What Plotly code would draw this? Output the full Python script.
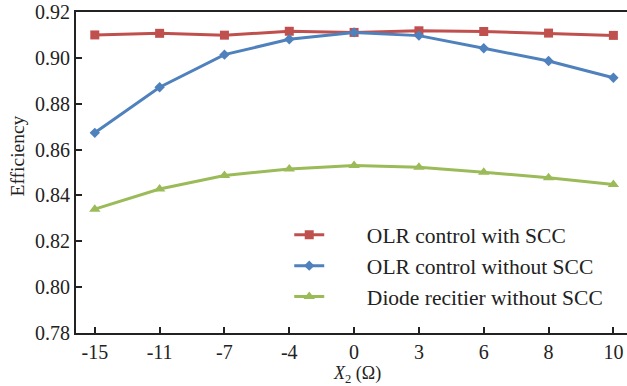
import plotly.graph_objects as go

x_labels = ["-15", "-11", "-7", "-4", "0", "3", "6", "8", "10"]
olr_with_scc = [0.9100, 0.9107, 0.9099, 0.9116, 0.9111, 0.9118, 0.9115, 0.9108, 0.9098]
olr_without_scc = [0.8673, 0.8872, 0.9014, 0.9081, 0.9111, 0.9097, 0.9042, 0.8986, 0.8913]
diode_without_scc = [0.8340, 0.8428, 0.8487, 0.8515, 0.8531, 0.8523, 0.8501, 0.8477, 0.8448]
y_ticks = [0.78, 0.80, 0.82, 0.84, 0.86, 0.88, 0.90, 0.92]

FONT = "Liberation Serif, Times New Roman, serif"
pad = "\u00a0" * 7

fig = go.Figure()
fig.add_trace(go.Scatter(x=x_labels, y=olr_with_scc, mode="lines+markers",
                         name=pad + "OLR control with SCC",
                         line=dict(color="#C0504D", width=3),
                         marker=dict(symbol="square", size=9, color="#C0504D")))
fig.add_trace(go.Scatter(x=x_labels, y=olr_without_scc, mode="lines+markers",
                         name=pad + "OLR control without SCC",
                         line=dict(color="#4F81BD", width=3),
                         marker=dict(symbol="diamond", size=8, color="#4F81BD")))
fig.add_trace(go.Scatter(x=x_labels, y=diode_without_scc, mode="lines+markers",
                         name=pad + "Diode recitier without SCC",
                         line=dict(color="#9BBB59", width=3),
                         marker=dict(symbol="triangle-up", size=10, color="#9BBB59")))

fig.update_layout(
    width=627, height=386,
    margin=dict(l=76, r=0, t=12, b=53),
    paper_bgcolor="white", plot_bgcolor="white",
    font=dict(family=FONT, size=20, color="#222"),
    showlegend=True,
    legend=dict(x=0.387, y=0.37, xanchor="left", yanchor="top",
                bgcolor="rgba(0,0,0,0)", font=dict(family=FONT, size=21.5, color="#222"),
                tracegroupgap=0, itemwidth=30),
    xaxis=dict(type="category", range=[-0.29, 8.21], showgrid=False, zeroline=False,
               showline=True, linecolor="#222", linewidth=2, mirror=True,
               ticks="inside", ticklen=6, tickcolor="#222", tickwidth=1.5,
               tickfont=dict(family=FONT, size=20, color="#222")),
    yaxis=dict(range=[0.78, 0.92], tickvals=y_ticks,
               ticktext=[f"{v:.2f}" for v in y_ticks], showgrid=False, zeroline=False,
               showline=True, linecolor="#222", linewidth=2, mirror=False,
               ticks="inside", ticklen=6, tickcolor="#222", tickwidth=1.5,
               tickfont=dict(family=FONT, size=20, color="#222")),
    annotations=[
        dict(text="Efficiency", textangle=-90, xref="paper", yref="paper",
             x=-0.107, y=0.55, xanchor="center", yanchor="middle", showarrow=False,
             font=dict(family=FONT, size=19.5, color="#222")),
        dict(text="<i>X</i><sub>2</sub> (Ω)", xref="paper", yref="paper",
             x=0.51, y=-0.13, xanchor="center", yanchor="middle", showarrow=False,
             font=dict(family=FONT, size=18, color="#222")),
    ],
)

fig.write_html("out.html", config={"displayModeBar": False},
               post_script="document.body.style.margin='0';")
